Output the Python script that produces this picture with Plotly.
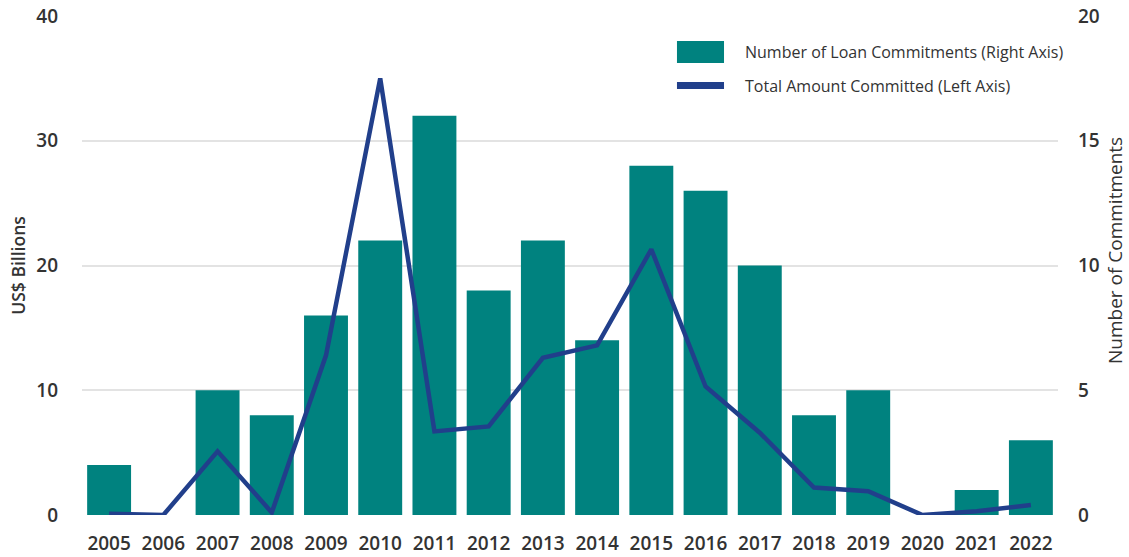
import plotly.graph_objects as go

years = [str(y) for y in range(2005, 2023)]
commitments = [2, 0, 5, 4, 8, 11, 16, 9, 11, 7, 14, 13, 10, 4, 5, 0, 1, 3]
amount_bn = [0.1, 0.0, 5.1, 0.2, 12.8, 35.0, 6.7, 7.1, 12.6, 13.6, 21.3, 10.3, 6.6, 2.2, 1.9, 0.0, 0.3, 0.8]

bar_name = "Number of Loan Commitments (Right Axis)"
line_name = "Total Amount Committed (Left Axis)"
right_title = "Number of Commitments"
left_title = "US$ Billions"

TEAL = "#00827F"
NAVY = "#213F8B"
TXT = "#333333"

fig = go.Figure()
fig.add_trace(go.Bar(
    x=years, y=commitments, name=bar_name,
    marker=dict(color=TEAL, line=dict(width=0)),
    yaxis="y",
))
fig.add_trace(go.Scatter(
    x=years, y=amount_bn, name=line_name,
    mode="lines", line=dict(color=NAVY, width=4.5),
    yaxis="y2",
))

# custom legend (swatches + labels) placed in paper coordinates
legend_shapes = [
    dict(type="rect", xref="paper", yref="paper", x0=0.6096, x1=0.6578, y0=0.9058, y1=0.9499,
         fillcolor=TEAL, line=dict(width=0)),
    dict(type="line", xref="paper", yref="paper", x0=0.6096, x1=0.6578, y0=0.8607, y1=0.8607,
         line=dict(color=NAVY, width=7)),
]
annotations = [
    dict(text=bar_name, xref="paper", yref="paper", x=0.6773, y=0.9279, xanchor="left",
         yanchor="middle", showarrow=False, font=dict(size=16, color=TXT)),
    dict(text=line_name, xref="paper", yref="paper", x=0.6773, y=0.8607, xanchor="left",
         yanchor="middle", showarrow=False, font=dict(size=16, color=TXT)),
    dict(text=right_title, xref="paper", yref="paper", x=1.0584, y=0.531, xanchor="center",
         yanchor="middle", textangle=-90, showarrow=False, font=dict(size=19, color=TXT)),
]

fig.update_layout(
    width=1129, height=557,
    margin=dict(l=82, r=71, t=16, b=42),
    plot_bgcolor="white", paper_bgcolor="white",
    font=dict(family="Open Sans", color=TXT, size=15),
    bargap=0.19,
    showlegend=False,
    shapes=legend_shapes,
    annotations=annotations,
    xaxis=dict(type="category", showgrid=False, zeroline=False, showline=False,
               tickfont=dict(size=19, color=TXT, weight=600), ticks="",
               ticklabelstandoff=15, automargin=False),
    yaxis=dict(side="right", range=[0, 20], tickvals=[0, 5, 10, 15, 20],
               showgrid=True, gridcolor="#E3E3E3", gridwidth=1.5,
               zeroline=False, showline=False,
               tickfont=dict(size=19, color=TXT, weight=600),
               ticklabelstandoff=19, automargin=False),
    yaxis2=dict(side="left", overlaying="y", range=[0, 40], tickvals=[0, 10, 20, 30, 40],
                showgrid=False, zeroline=False, showline=False,
                tickfont=dict(size=19, color=TXT, weight=600),
                ticklabelstandoff=23, automargin=False,
                title=dict(text=left_title, font=dict(size=17.5, color=TXT, weight=600), standoff=6)),
)

fig.write_html("out.html", post_script="document.body.style.margin='0';",
               config={"displayModeBar": False})
